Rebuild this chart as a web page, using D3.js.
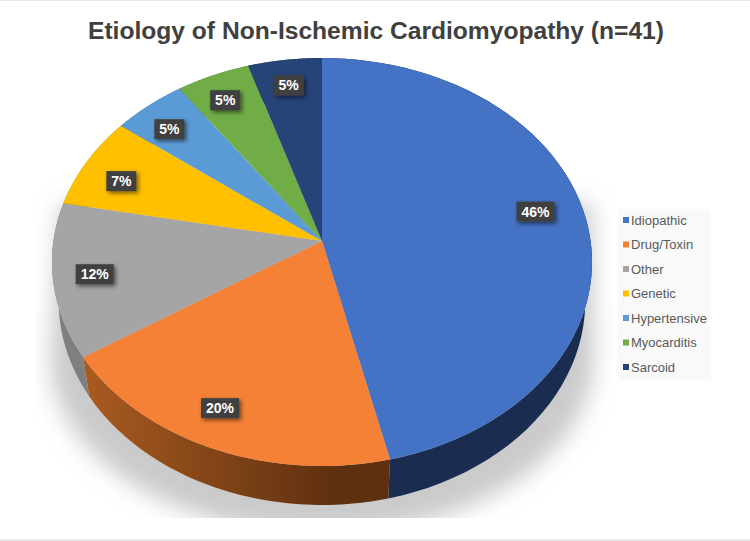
<!DOCTYPE html>
<html><head><meta charset="utf-8">
<script src="https://cdn.jsdelivr.net/npm/d3@7"></script>
<style>html,body{margin:0;padding:0;background:#fff}svg{display:block}</style>
</head><body><div id="chart"></div>
<script>
const categories = ["Idiopathic","Drug/Toxin","Other","Genetic","Hypertensive","Myocarditis","Sarcoid"];
const counts = [19,8,5,3,2,2,2];
const percentLabels = ["46%","20%","12%","7%","5%","5%","5%"];
const colors = ["#4472c4","#f48135","#a5a5a5","#ffc000","#5b9bd5","#70ad47","#264478"];
const wallColors = ["#1a2d50","url(#orangeWall)","#7f7f7f","#997300","#2e75b6","#43682b","#172a4a"];
const labelNudge = [[2,-11],[-15,5],[-13,2],[-11,4],[-12,-2],[-8,-6],[-3,-8]];
const titleText = "Etiology of Non-Ischemic Cardiomyopathy (n=41)";

const W=750,H=541;
const svg=d3.select("#chart").append("svg").attr("width",W).attr("height",H);
const defs=svg.append("defs");
const g=defs.append("linearGradient").attr("id","orangeWall").attr("gradientUnits","userSpaceOnUse")
  .attr("x1",88).attr("x2",335).attr("y1",0).attr("y2",0);
g.append("stop").attr("offset",0).attr("stop-color","#a85a1f");
g.append("stop").attr("offset",1).attr("stop-color","#5e3010");
const blur=defs.append("filter").attr("id","soft").attr("x","-20%").attr("y","-20%").attr("width","140%").attr("height","140%");
blur.append("feGaussianBlur").attr("stdDeviation",11);
const ds=defs.append("filter").attr("id","boxShadow").attr("x","-30%").attr("y","-40%").attr("width","170%").attr("height","190%");
ds.append("feDropShadow").attr("dx",2).attr("dy",2).attr("stdDeviation",2).attr("flood-color","#000").attr("flood-opacity",.55);
defs.append("clipPath").attr("id","shadowClip").append("rect").attr("x",36).attr("y",150).attr("width",600).attr("height",368);

// perspective projection of the flat disc
const cx=322,cy=241,K=268.6,A=177,C=-0.103,DEPTH=39,SHRINK=.975;
const project=(ang,f=1)=>{const u=f*Math.sin(ang),v=-f*Math.cos(ang),d=1+C*v;
  return [cx+K*u/d,(A*v+cy)/d];};
const lower=p=>[cx+SHRINK*(p[0]-cx),p[1]+DEPTH];
const arcPts=(a0,a1)=>d3.range(0,61).map(i=>project(a0+(a1-a0)*i/60));
const line=d3.line();

const slices=d3.pie().sort(null).value(d=>d)(counts);

// ground shadow: a wide ellipse joined to the disc's flanks
const shadowEllipse=d3.range(0,120).map(i=>{const t=i/120*2*Math.PI;return [cx+272*Math.cos(t),358+176*Math.sin(t)];});
const shadowHull=d3.polygonHull(shadowEllipse.concat([[60,205],[592,205]]));
svg.append("g").attr("clip-path","url(#shadowClip)").append("path")
  .attr("d",line(shadowHull)+"Z")
  .attr("fill","#cbcbcb").attr("filter","url(#soft)");

// side walls
svg.append("g").selectAll("path").data(slices).join("path")
  .attr("d",d=>{const t=arcPts(d.startAngle,d.endAngle);return line(t.concat(t.map(lower).reverse()))+"Z";})
  .attr("fill",(d,i)=>wallColors[i]);

// top surface
svg.append("g").selectAll("path").data(slices).join("path")
  .attr("d",d=>line([project(0,0)].concat(arcPts(d.startAngle,d.endAngle)))+"Z")
  .attr("fill",(d,i)=>colors[i]);

// data labels
const lab=svg.append("g").selectAll("g").data(slices).join("g")
  .attr("transform",(d,i)=>{const p=project((d.startAngle+d.endAngle)/2,.8);
    return `translate(${p[0]+labelNudge[i][0]},${p[1]+labelNudge[i][1]})`;});
lab.append("rect").attr("x",(d,i)=>percentLabels[i].length>2?-19:-15).attr("y",-10)
  .attr("width",(d,i)=>percentLabels[i].length>2?38:30).attr("height",20)
  .attr("fill","#404040").attr("filter","url(#boxShadow)");
lab.append("text").attr("text-anchor","middle").attr("y",5)
  .attr("font-family","'Liberation Sans',Arial,sans-serif").attr("font-weight","bold").attr("font-size",14)
  .attr("fill","#fff").text((d,i)=>percentLabels[i]);

// title
svg.append("text").attr("x",376).attr("y",39).attr("text-anchor","middle")
  .attr("font-family","'Liberation Sans',Arial,sans-serif").attr("font-weight","bold").attr("font-size",24.6)
  .attr("fill","#404040").text(titleText);

// legend
const legend=svg.append("g");
legend.append("rect").attr("x",618).attr("y",209).attr("width",93).attr("height",171).attr("fill","#f9f9f9");
const rowY=d3.scalePoint().domain(categories).range([220,367]);
const row=legend.selectAll("g").data(categories).join("g").attr("transform",d=>`translate(623,${rowY(d)})`);
row.append("rect").attr("y",-3).attr("width",6).attr("height",6).attr("fill",(d,i)=>colors[i]);
row.append("text").attr("x",8).attr("y",4.5).attr("font-family","'Liberation Sans',Arial,sans-serif")
  .attr("font-size",13).attr("fill","#595959").text(d=>d);

// frame hairlines
svg.append("rect").attr("x",0).attr("y",0).attr("width",W).attr("height",1).attr("fill","#e6e6e6");
svg.append("rect").attr("x",0).attr("y",539).attr("width",W).attr("height",2).attr("fill","#ececec");
</script></body></html>
